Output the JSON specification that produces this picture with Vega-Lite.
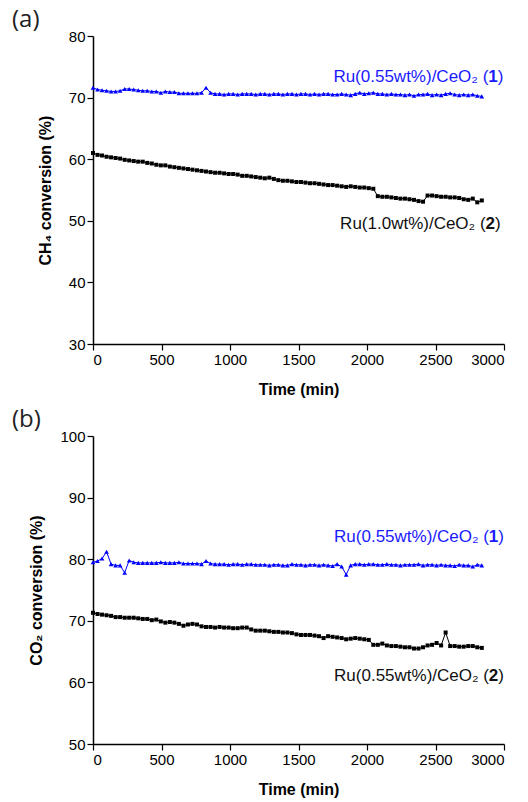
{
  "$schema": "https://vega.github.io/schema/vega-lite/v6.json",
  "padding": {"left": 12, "top": 8, "right": 10, "bottom": 5},
  "datasets": {
    "a1": [
      {"t":0,"v":71.6},{"t":33,"v":71.3},{"t":66,"v":71.2},{"t":99,"v":71.1},{"t":132,"v":71.0},{"t":165,"v":71.0},{"t":198,"v":71.1},{"t":231,"v":71.4},{"t":264,"v":71.4},{"t":297,"v":71.3},
      {"t":330,"v":71.2},{"t":363,"v":71.1},{"t":396,"v":71.1},{"t":429,"v":71.0},{"t":462,"v":71.0},{"t":495,"v":70.8},{"t":528,"v":71.0},{"t":561,"v":70.9},{"t":594,"v":70.9},{"t":627,"v":70.7},
      {"t":660,"v":70.7},{"t":693,"v":70.7},{"t":726,"v":70.7},{"t":759,"v":70.7},{"t":792,"v":70.8},{"t":825,"v":71.6},{"t":858,"v":70.8},{"t":891,"v":70.6},{"t":924,"v":70.6},{"t":957,"v":70.5},
      {"t":990,"v":70.6},{"t":1023,"v":70.6},{"t":1056,"v":70.5},{"t":1089,"v":70.6},{"t":1122,"v":70.6},{"t":1155,"v":70.6},{"t":1188,"v":70.5},{"t":1221,"v":70.6},{"t":1254,"v":70.6},{"t":1287,"v":70.5},
      {"t":1320,"v":70.6},{"t":1353,"v":70.6},{"t":1386,"v":70.5},{"t":1419,"v":70.6},{"t":1452,"v":70.6},{"t":1485,"v":70.5},{"t":1518,"v":70.6},{"t":1551,"v":70.6},{"t":1584,"v":70.5},{"t":1617,"v":70.6},
      {"t":1650,"v":70.5},{"t":1683,"v":70.6},{"t":1716,"v":70.6},{"t":1749,"v":70.5},{"t":1782,"v":70.5},{"t":1815,"v":70.6},{"t":1848,"v":70.5},{"t":1881,"v":70.4},{"t":1914,"v":70.6},{"t":1947,"v":70.8},
      {"t":1980,"v":70.6},{"t":2013,"v":70.7},{"t":2046,"v":70.8},{"t":2079,"v":70.6},{"t":2112,"v":70.6},{"t":2145,"v":70.5},{"t":2178,"v":70.6},{"t":2211,"v":70.5},{"t":2244,"v":70.5},{"t":2277,"v":70.4},
      {"t":2310,"v":70.5},{"t":2343,"v":70.3},{"t":2376,"v":70.5},{"t":2409,"v":70.5},{"t":2442,"v":70.6},{"t":2475,"v":70.4},{"t":2508,"v":70.5},{"t":2541,"v":70.4},{"t":2574,"v":70.6},{"t":2607,"v":70.7},
      {"t":2640,"v":70.5},{"t":2673,"v":70.4},{"t":2706,"v":70.5},{"t":2739,"v":70.4},{"t":2772,"v":70.5},{"t":2805,"v":70.3},{"t":2838,"v":70.2}
    ],
    "a2": [
      {"t":0,"v":61.0},{"t":33,"v":60.7},{"t":66,"v":60.6},{"t":99,"v":60.4},{"t":132,"v":60.3},{"t":165,"v":60.2},{"t":198,"v":60.1},{"t":231,"v":59.9},{"t":264,"v":59.8},{"t":297,"v":59.7},
      {"t":330,"v":59.6},{"t":363,"v":59.6},{"t":396,"v":59.4},{"t":429,"v":59.3},{"t":462,"v":59.1},{"t":495,"v":59.0},{"t":528,"v":59.0},{"t":561,"v":58.8},{"t":594,"v":58.7},{"t":627,"v":58.6},
      {"t":660,"v":58.5},{"t":693,"v":58.4},{"t":726,"v":58.3},{"t":759,"v":58.2},{"t":792,"v":58.1},{"t":825,"v":58.0},{"t":858,"v":57.9},{"t":891,"v":57.8},{"t":924,"v":57.8},{"t":957,"v":57.7},
      {"t":990,"v":57.6},{"t":1023,"v":57.6},{"t":1056,"v":57.5},{"t":1089,"v":57.3},{"t":1122,"v":57.3},{"t":1155,"v":57.2},{"t":1188,"v":57.1},{"t":1221,"v":57.0},{"t":1254,"v":56.9},{"t":1287,"v":57.0},
      {"t":1320,"v":56.8},{"t":1353,"v":56.6},{"t":1386,"v":56.5},{"t":1419,"v":56.5},{"t":1452,"v":56.4},{"t":1485,"v":56.3},{"t":1518,"v":56.3},{"t":1551,"v":56.2},{"t":1584,"v":56.1},{"t":1617,"v":56.1},
      {"t":1650,"v":56.0},{"t":1683,"v":55.9},{"t":1716,"v":55.8},{"t":1749,"v":55.8},{"t":1782,"v":55.7},{"t":1815,"v":55.6},{"t":1848,"v":55.5},{"t":1881,"v":55.6},{"t":1914,"v":55.5},{"t":1947,"v":55.4},
      {"t":1980,"v":55.4},{"t":2013,"v":55.3},{"t":2046,"v":55.2},{"t":2079,"v":54.0},{"t":2112,"v":53.9},{"t":2145,"v":53.9},{"t":2178,"v":53.8},{"t":2211,"v":53.7},{"t":2244,"v":53.6},{"t":2277,"v":53.6},
      {"t":2310,"v":53.5},{"t":2343,"v":53.4},{"t":2376,"v":53.2},{"t":2409,"v":53.1},{"t":2442,"v":54.1},{"t":2475,"v":54.1},{"t":2508,"v":54.0},{"t":2541,"v":53.9},{"t":2574,"v":53.9},{"t":2607,"v":53.8},
      {"t":2640,"v":53.8},{"t":2673,"v":53.7},{"t":2706,"v":53.5},{"t":2739,"v":53.4},{"t":2772,"v":53.6},{"t":2805,"v":53.0},{"t":2838,"v":53.3}
    ],
    "b1": [
      {"t":0,"v":79.5},{"t":33,"v":79.7},{"t":66,"v":80.1},{"t":99,"v":81.2},{"t":132,"v":79.2},{"t":165,"v":79.0},{"t":198,"v":79.0},{"t":231,"v":77.8},{"t":264,"v":79.8},{"t":297,"v":79.5},
      {"t":330,"v":79.4},{"t":363,"v":79.4},{"t":396,"v":79.4},{"t":429,"v":79.4},{"t":462,"v":79.4},{"t":495,"v":79.5},{"t":528,"v":79.4},{"t":561,"v":79.4},{"t":594,"v":79.4},{"t":627,"v":79.5},
      {"t":660,"v":79.3},{"t":693,"v":79.3},{"t":726,"v":79.3},{"t":759,"v":79.3},{"t":792,"v":79.2},{"t":825,"v":79.7},{"t":858,"v":79.3},{"t":891,"v":79.2},{"t":924,"v":79.2},{"t":957,"v":79.2},
      {"t":990,"v":79.1},{"t":1023,"v":79.2},{"t":1056,"v":79.2},{"t":1089,"v":79.1},{"t":1122,"v":79.2},{"t":1155,"v":79.2},{"t":1188,"v":79.1},{"t":1221,"v":79.1},{"t":1254,"v":79.1},{"t":1287,"v":79.0},
      {"t":1320,"v":79.1},{"t":1353,"v":79.1},{"t":1386,"v":79.0},{"t":1419,"v":79.0},{"t":1452,"v":79.2},{"t":1485,"v":79.1},{"t":1518,"v":79.1},{"t":1551,"v":79.0},{"t":1584,"v":79.1},{"t":1617,"v":79.1},
      {"t":1650,"v":79.0},{"t":1683,"v":79.1},{"t":1716,"v":79.0},{"t":1749,"v":78.9},{"t":1782,"v":79.2},{"t":1815,"v":78.8},{"t":1848,"v":77.5},{"t":1881,"v":79.0},{"t":1914,"v":79.2},{"t":1947,"v":79.2},
      {"t":1980,"v":79.1},{"t":2013,"v":79.2},{"t":2046,"v":79.2},{"t":2079,"v":79.1},{"t":2112,"v":79.1},{"t":2145,"v":79.2},{"t":2178,"v":79.1},{"t":2211,"v":79.1},{"t":2244,"v":79.0},{"t":2277,"v":79.1},
      {"t":2310,"v":79.1},{"t":2343,"v":79.1},{"t":2376,"v":79.2},{"t":2409,"v":79.0},{"t":2442,"v":79.1},{"t":2475,"v":79.1},{"t":2508,"v":79.0},{"t":2541,"v":79.1},{"t":2574,"v":79.0},{"t":2607,"v":79.0},
      {"t":2640,"v":78.9},{"t":2673,"v":79.1},{"t":2706,"v":79.0},{"t":2739,"v":79.0},{"t":2772,"v":78.8},{"t":2805,"v":79.1},{"t":2838,"v":79.0}
    ],
    "b2": [
      {"t":0,"v":71.3},{"t":33,"v":71.1},{"t":66,"v":71.0},{"t":99,"v":70.9},{"t":132,"v":70.8},{"t":165,"v":70.6},{"t":198,"v":70.6},{"t":231,"v":70.5},{"t":264,"v":70.5},{"t":297,"v":70.5},
      {"t":330,"v":70.4},{"t":363,"v":70.3},{"t":396,"v":70.3},{"t":429,"v":70.1},{"t":462,"v":70.2},{"t":495,"v":69.9},{"t":528,"v":69.7},{"t":561,"v":69.8},{"t":594,"v":69.7},{"t":627,"v":69.5},
      {"t":660,"v":69.2},{"t":693,"v":69.4},{"t":726,"v":69.5},{"t":759,"v":69.4},{"t":792,"v":69.1},{"t":825,"v":69.0},{"t":858,"v":69.0},{"t":891,"v":68.9},{"t":924,"v":69.0},{"t":957,"v":68.9},
      {"t":990,"v":68.9},{"t":1023,"v":68.8},{"t":1056,"v":68.8},{"t":1089,"v":68.9},{"t":1122,"v":68.9},{"t":1155,"v":68.6},{"t":1188,"v":68.4},{"t":1221,"v":68.4},{"t":1254,"v":68.4},{"t":1287,"v":68.3},
      {"t":1320,"v":68.2},{"t":1353,"v":68.2},{"t":1386,"v":68.1},{"t":1419,"v":68.1},{"t":1452,"v":68.0},{"t":1485,"v":67.8},{"t":1518,"v":67.7},{"t":1551,"v":67.7},{"t":1584,"v":67.7},{"t":1617,"v":67.6},
      {"t":1650,"v":67.5},{"t":1683,"v":67.2},{"t":1716,"v":67.5},{"t":1749,"v":67.4},{"t":1782,"v":67.3},{"t":1815,"v":67.2},{"t":1848,"v":67.0},{"t":1881,"v":67.1},{"t":1914,"v":67.2},{"t":1947,"v":67.1},
      {"t":1980,"v":67.0},{"t":2013,"v":66.9},{"t":2046,"v":66.1},{"t":2079,"v":66.1},{"t":2112,"v":66.3},{"t":2145,"v":66.0},{"t":2178,"v":65.9},{"t":2211,"v":65.9},{"t":2244,"v":65.8},{"t":2277,"v":65.7},
      {"t":2310,"v":65.7},{"t":2343,"v":65.5},{"t":2376,"v":65.5},{"t":2409,"v":65.7},{"t":2442,"v":66.0},{"t":2475,"v":66.1},{"t":2508,"v":66.4},{"t":2541,"v":66.0},{"t":2574,"v":68.1},{"t":2607,"v":65.9},
      {"t":2640,"v":65.9},{"t":2673,"v":65.8},{"t":2706,"v":65.8},{"t":2739,"v":65.9},{"t":2772,"v":65.9},{"t":2805,"v":65.7},{"t":2838,"v":65.6}
    ]
  },
  "config": {
    "view": {"stroke": null},
    "axis": {
      "grid": false,
      "labelFont": "Liberation Sans",
      "titleFont": "Liberation Sans",
      "labelFontSize": 15,
      "titleFontSize": 16,
      "titleFontWeight": "bold",
      "labelColor": "#000",
      "titleColor": "#000",
      "domainColor": "#000",
      "tickColor": "#000",
      "domainWidth": 1.5,
      "tickWidth": 1.2,
      "labelPadding": 2
    },
    "title": {"font": "Open Sans", "fontSize": 24, "fontWeight": "normal", "color": "#222", "anchor": "start", "frame": "group", "dx": -81, "offset": -3}
  },
  "spacing": 11,
  "vconcat": [
    {
      "title": "(a)",
      "width": 411,
      "height": 308,
      "layer": [
        {
          "data": {"name": "a2"},
          "mark": {"type": "line", "color": "#000", "strokeWidth": 1, "point": {"shape": "square", "filled": true, "size": 16, "color": "#000"}},
          "encoding": {
            "x": {"field": "t", "type": "quantitative", "scale": {"domain": [0, 3000], "nice": false},
              "axis": {"title": "Time (min)", "values": [0,250,500,750,1000,1250,1500,1750,2000,2250,2500,2750,3000],
                "labelExpr": "datum.value % 500 === 0 ? format(datum.value, 'd') : ''",
                "tickSize": {"condition": {"test": "datum.value % 500 === 0", "value": 6}, "value": 3},
                "titlePadding": 14}},
            "y": {"field": "v", "type": "quantitative", "scale": {"domain": [30, 80], "nice": false},
              "axis": {"title": "CH₄ conversion (%)", "values": [30,35,40,45,50,55,60,65,70,75,80],
                "labelExpr": "datum.value % 10 === 0 ? format(datum.value, 'd') : ''",
                "tickSize": {"condition": {"test": "datum.value % 10 === 0", "value": 6}, "value": 3},
                "titlePadding": 15}}
          }
        },
        {
          "data": {"name": "a1"},
          "mark": {"type": "line", "color": "#0000ff", "strokeWidth": 1, "point": {"shape": "triangle-up", "filled": true, "size": 22, "color": "#0000ff"}},
          "encoding": {
            "x": {"field": "t", "type": "quantitative"},
            "y": {"field": "v", "type": "quantitative"}
          }
        },
        {
          "data": {"values": [{}]},
          "mark": {"type": "text", "text": "Ru(0.55wt%)/CeO₂ (", "align": "right", "baseline": "alphabetic", "font": "Liberation Sans", "fontSize": 17, "color": "#1a1aff", "dx": -15},
          "encoding": {"x": {"datum": 2995, "type": "quantitative"}, "y": {"datum": 72.6, "type": "quantitative"}}
        },
        {
          "data": {"values": [{}]},
          "mark": {"type": "text", "text": "1", "align": "right", "baseline": "alphabetic", "font": "Liberation Sans", "fontSize": 17, "fontWeight": "bold", "color": "#1a1aff", "dx": -5.7},
          "encoding": {"x": {"datum": 2995, "type": "quantitative"}, "y": {"datum": 72.6, "type": "quantitative"}}
        },
        {
          "data": {"values": [{}]},
          "mark": {"type": "text", "text": ")", "align": "right", "baseline": "alphabetic", "font": "Liberation Sans", "fontSize": 17, "color": "#1a1aff"},
          "encoding": {"x": {"datum": 2995, "type": "quantitative"}, "y": {"datum": 72.6, "type": "quantitative"}}
        },
        {
          "data": {"values": [{}]},
          "mark": {"type": "text", "text": "Ru(1.0wt%)/CeO₂ (", "align": "right", "baseline": "alphabetic", "font": "Liberation Sans", "fontSize": 17, "color": "#111", "dx": -15},
          "encoding": {"x": {"datum": 2975, "type": "quantitative"}, "y": {"datum": 48.7, "type": "quantitative"}}
        },
        {
          "data": {"values": [{}]},
          "mark": {"type": "text", "text": "2", "align": "right", "baseline": "alphabetic", "font": "Liberation Sans", "fontSize": 17, "fontWeight": "bold", "color": "#111", "dx": -5.7},
          "encoding": {"x": {"datum": 2975, "type": "quantitative"}, "y": {"datum": 48.7, "type": "quantitative"}}
        },
        {
          "data": {"values": [{}]},
          "mark": {"type": "text", "text": ")", "align": "right", "baseline": "alphabetic", "font": "Liberation Sans", "fontSize": 17, "color": "#111"},
          "encoding": {"x": {"datum": 2975, "type": "quantitative"}, "y": {"datum": 48.7, "type": "quantitative"}}
        }
      ]
    },
    {
      "title": "(b)",
      "width": 411,
      "height": 308,
      "layer": [
        {
          "data": {"name": "b2"},
          "mark": {"type": "line", "color": "#000", "strokeWidth": 1, "point": {"shape": "square", "filled": true, "size": 16, "color": "#000"}},
          "encoding": {
            "x": {"field": "t", "type": "quantitative", "scale": {"domain": [0, 3000], "nice": false},
              "axis": {"title": "Time (min)", "values": [0,250,500,750,1000,1250,1500,1750,2000,2250,2500,2750,3000],
                "labelExpr": "datum.value % 500 === 0 ? format(datum.value, 'd') : ''",
                "tickSize": {"condition": {"test": "datum.value % 500 === 0", "value": 6}, "value": 3},
                "titlePadding": 14}},
            "y": {"field": "v", "type": "quantitative", "scale": {"domain": [50, 100], "nice": false},
              "axis": {"title": "CO₂ conversion (%)", "values": [50,55,60,65,70,75,80,85,90,95,100],
                "labelExpr": "datum.value % 10 === 0 ? format(datum.value, 'd') : ''",
                "tickSize": {"condition": {"test": "datum.value % 10 === 0", "value": 6}, "value": 3},
                "titlePadding": 15}}
          }
        },
        {
          "data": {"name": "b1"},
          "mark": {"type": "line", "color": "#0000ff", "strokeWidth": 1, "point": {"shape": "triangle-up", "filled": true, "size": 22, "color": "#0000ff"}},
          "encoding": {
            "x": {"field": "t", "type": "quantitative"},
            "y": {"field": "v", "type": "quantitative"}
          }
        },
        {
          "data": {"values": [{}]},
          "mark": {"type": "text", "text": "Ru(0.55wt%)/CeO₂ (", "align": "right", "baseline": "alphabetic", "font": "Liberation Sans", "fontSize": 17, "color": "#1a1aff", "dx": -15},
          "encoding": {"x": {"datum": 3000, "type": "quantitative"}, "y": {"datum": 82.85, "type": "quantitative"}}
        },
        {
          "data": {"values": [{}]},
          "mark": {"type": "text", "text": "1", "align": "right", "baseline": "alphabetic", "font": "Liberation Sans", "fontSize": 17, "fontWeight": "bold", "color": "#1a1aff", "dx": -5.7},
          "encoding": {"x": {"datum": 3000, "type": "quantitative"}, "y": {"datum": 82.85, "type": "quantitative"}}
        },
        {
          "data": {"values": [{}]},
          "mark": {"type": "text", "text": ")", "align": "right", "baseline": "alphabetic", "font": "Liberation Sans", "fontSize": 17, "color": "#1a1aff"},
          "encoding": {"x": {"datum": 3000, "type": "quantitative"}, "y": {"datum": 82.85, "type": "quantitative"}}
        },
        {
          "data": {"values": [{}]},
          "mark": {"type": "text", "text": "Ru(0.55wt%)/CeO₂ (", "align": "right", "baseline": "alphabetic", "font": "Liberation Sans", "fontSize": 17, "color": "#111", "dx": -15},
          "encoding": {"x": {"datum": 3000, "type": "quantitative"}, "y": {"datum": 60.3, "type": "quantitative"}}
        },
        {
          "data": {"values": [{}]},
          "mark": {"type": "text", "text": "2", "align": "right", "baseline": "alphabetic", "font": "Liberation Sans", "fontSize": 17, "fontWeight": "bold", "color": "#111", "dx": -5.7},
          "encoding": {"x": {"datum": 3000, "type": "quantitative"}, "y": {"datum": 60.3, "type": "quantitative"}}
        },
        {
          "data": {"values": [{}]},
          "mark": {"type": "text", "text": ")", "align": "right", "baseline": "alphabetic", "font": "Liberation Sans", "fontSize": 17, "color": "#111"},
          "encoding": {"x": {"datum": 3000, "type": "quantitative"}, "y": {"datum": 60.3, "type": "quantitative"}}
        }
      ]
    }
  ]
}
